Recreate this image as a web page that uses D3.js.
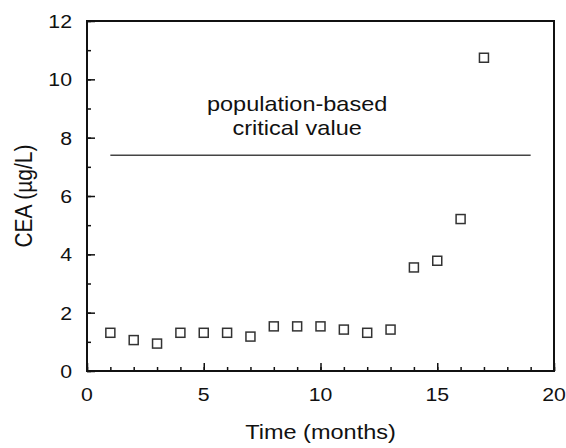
<!DOCTYPE html>
<html>
<head>
<meta charset="utf-8">
<script src="https://cdn.jsdelivr.net/npm/d3@7"></script>
<style>
  body { margin: 0; background: #fff; }
  text { font-family: "Liberation Sans", Arial, sans-serif; fill: #111; }
</style>
</head>
<body>
<div id="chart"></div>
<script>
// CEA measurements per month
let months = [1, 2, 3, 4, 5, 6, 7, 8, 9, 10, 11, 12, 13, 14, 15, 16, 17];
let cea = [1.31, 1.06, 0.94, 1.31, 1.31, 1.31, 1.18, 1.53, 1.53, 1.53, 1.42, 1.31, 1.42, 3.55, 3.78, 5.21, 10.74];

// population-based critical value line
let criticalValue = 7.4;
let criticalRange = [1, 19];
let criticalLabel = ["population-based", "critical value"];
let criticalLabelX = 9;

let xTicks = [0, 5, 10, 15, 20];
let yTicks = [0, 2, 4, 6, 8, 10, 12];

// the reference text is a little wider than it is tall
const stretch = 1.12;

function place(px, py) {
    return 'translate(' + px + ',' + py + ') scale(' + stretch + ',1)';
}

function drawChart() {
    let width = 566, height = 448;
    let margin = {left: 87, right: 12, top: 21, bottom: 77};

    let svg = d3.select('#chart').append('svg')
        .attr('width', width)
        .attr('height', height);

    let x = d3.scaleLinear().domain([0, 20]).range([margin.left, width - margin.right]);
    let y = d3.scaleLinear().domain([0, 12]).range([height - margin.bottom, margin.top]);

    // minor ticks every unit, inward
    svg.append('g').attr('transform', 'translate(0,' + y(0) + ')')
        .call(d3.axisTop(x).tickValues(d3.range(0, 21, 1)).tickSize(4).tickFormat(''));
    svg.append('g').attr('transform', 'translate(0,' + y(0) + ')')
        .call(d3.axisTop(x).tickValues(xTicks).tickSize(8).tickFormat(''));

    svg.append('g').attr('transform', 'translate(' + x(0) + ',0)')
        .call(d3.axisRight(y).tickValues(d3.range(0, 13, 1)).tickSize(4).tickFormat(''));
    svg.append('g').attr('transform', 'translate(' + x(0) + ',0)')
        .call(d3.axisRight(y).tickValues(yTicks).tickSize(8).tickFormat(''));

    svg.selectAll('.domain').remove();
    svg.selectAll('.tick line').attr('stroke', '#111').attr('stroke-width', 1.5);

    // frame
    svg.append('rect')
        .attr('x', x(0)).attr('y', y(12))
        .attr('width', x(20) - x(0)).attr('height', y(0) - y(12))
        .attr('fill', 'none').attr('stroke', '#111').attr('stroke-width', 2);

    // tick labels
    svg.selectAll('.xlabel').data(xTicks).enter().append('text')
        .attr('transform', d => place(x(d), y(0) + 30))
        .attr('text-anchor', 'middle').style('font-size', '19px')
        .text(d => d);

    svg.selectAll('.ylabel').data(yTicks).enter().append('text')
        .attr('transform', d => place(x(0) - 15, y(d) + 7))
        .attr('text-anchor', 'end').style('font-size', '19px')
        .text(d => d);

    // axis titles
    svg.append('text')
        .attr('transform', place((x(0) + x(20)) / 2, 439))
        .attr('text-anchor', 'middle').style('font-size', '21px')
        .text('Time (months)');

    svg.append('text')
        .attr('transform', 'translate(32,' + (y(0) + y(12)) / 2 + ') scale(' + stretch + ',1) rotate(-90)')
        .attr('text-anchor', 'middle').style('font-size', '21px')
        .text('CEA (µg/L)');

    // critical value line
    svg.append('line')
        .attr('x1', x(criticalRange[0])).attr('x2', x(criticalRange[1]))
        .attr('y1', y(criticalValue)).attr('y2', y(criticalValue))
        .attr('stroke', '#444').attr('stroke-width', 1.5);

    svg.selectAll('.crit').data(criticalLabel).enter().append('text')
        .attr('transform', (d, i) => place(x(criticalLabelX), y(criticalValue) - 44 + i * 24))
        .attr('text-anchor', 'middle').style('font-size', '21px')
        .text(d => d);

    // data points as open squares
    let s = 9;
    svg.selectAll('.pt').data(months).enter().append('rect')
        .attr('x', d => x(d) - s / 2)
        .attr('y', (d, i) => y(cea[i]) - s / 2)
        .attr('width', s).attr('height', s)
        .attr('fill', '#fff').attr('stroke', '#333').attr('stroke-width', 1.5);
}

drawChart();
</script>
</body>
</html>
